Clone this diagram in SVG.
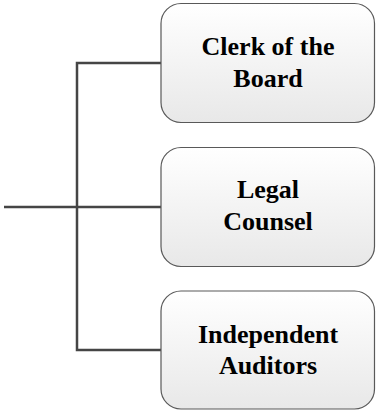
<svg xmlns="http://www.w3.org/2000/svg" width="376" height="410" viewBox="0 0 376 410">
<defs>
<linearGradient id="g" x1="0" y1="0" x2="0" y2="1">
<stop offset="0" stop-color="#ffffff"/>
<stop offset="1" stop-color="#e8e8e8"/>
</linearGradient>
<style>
.box{fill:url(#g);stroke:#595959;stroke-width:1.2}
.lbl{font-family:"Liberation Serif","Times New Roman",serif;font-weight:bold;font-size:26px;fill:#000;text-anchor:middle}
.con{fill:none;stroke:#454545;stroke-width:2.5}
</style>
</defs>
<g id="connectors">
<path class="con" d="M161,63 H77 V350 H161"/>
<path class="con" d="M4,207 H161"/>
</g>
<g id="clerk">
<rect class="box" x="161" y="3.5" width="213.5" height="119" rx="20"/>
<text class="lbl" x="268" y="55">Clerk of the</text>
<text class="lbl" x="268" y="87">Board</text>
</g>
<g id="legal">
<rect class="box" x="161" y="147.5" width="213.5" height="119" rx="20"/>
<text class="lbl" x="268" y="198">Legal</text>
<text class="lbl" x="268" y="230">Counsel</text>
</g>
<g id="auditors">
<rect class="box" x="161" y="291" width="213.5" height="118" rx="20"/>
<text class="lbl" x="268" y="343">Independent</text>
<text class="lbl" x="268" y="374">Auditors</text>
</g>
</svg>
